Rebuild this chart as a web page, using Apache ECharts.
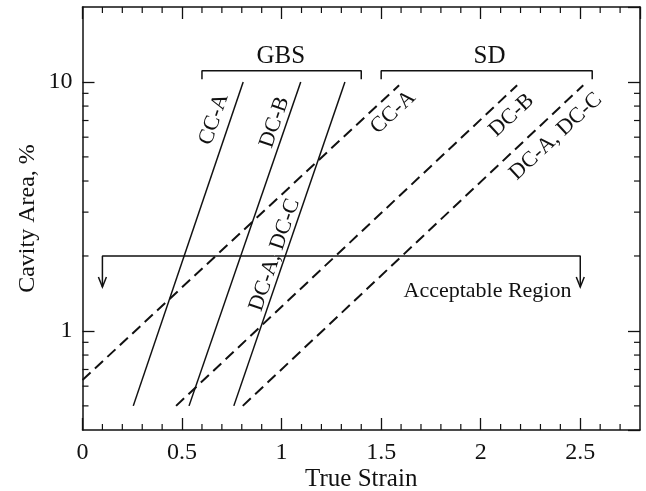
<!DOCTYPE html>
<html>
<head>
<meta charset="utf-8">
<script src="https://cdn.jsdelivr.net/npm/echarts@6/dist/echarts.min.js"></script>
<style>
html,body{margin:0;padding:0;background:#fff;}
#c{width:646px;height:491px;}
</style>
</head>
<body>
<div id="c"></div>
<script>
// ---- axis ranges and ticks ----
const xMin = 0, xMax = 2.8, xMajorStep = 0.5;
const yMin = 0.4, yMax = 20;
const xMinorTicks = [0.1,0.2,0.3,0.4,0.6,0.7,0.8,0.9,1.1,1.2,1.3,1.4,1.6,1.7,1.8,1.9,2.1,2.2,2.3,2.4,2.6,2.7];
const yMinorTicks = [0.5,0.6,0.7,0.8,0.9,2,3,4,5,6,7,8,9];

// ---- GBS (solid) lines: [strain, cavity area %] ----
const gbsCCA  = [[0.255, 0.5], [0.807, 10]];
const gbsDCB  = [[0.535, 0.5], [1.096, 10]];
const gbsDCAC = [[0.760, 0.5], [1.318, 10]];

// ---- SD (dashed) lines ----
const sdCCA  = [[0.000, 0.635], [1.590, 9.7]];
const sdDCB  = [[0.470, 0.5],   [2.183, 9.7]];
const sdDCAC = [[0.805, 0.5],   [2.515, 9.7]];

// ---- annotations ----
const gbsBracket = [[0.6, 10.25], [0.6, 11.1], [1.4, 11.1], [1.4, 10.25]];
const sdBracket  = [[1.5, 10.25], [1.5, 11.1], [2.56, 11.1], [2.56, 10.25]];
const acceptLine = [[0.1, 1.5], [0.1, 2], [2.5, 2], [2.5, 1.5]];
const arrowTips  = [[0.1, 1.5], [2.5, 1.5]];

const lineLabelText = ['CC-A', 'DC-B', 'DC-A, DC-C', 'CC-A', 'DC-B', 'DC-A, DC-C'];
const lineLabelX    = [0.660, 0.965, 0.965, 1.560, 2.155, 2.377];
const lineLabelY    = [7.08, 6.88, 2.02, 7.55, 7.34, 6.04];
const lineLabelRot  = [71, 71, 71, 43, 43, 43];

const headText = ['GBS', 'SD'];
const headX    = [0.996, 2.044];
const headY    = [12.7, 12.7];

const regionText = ['Acceptable Region'];
const regionX    = [2.034];
const regionY    = [1.44];

const INK = '#111';
const FONT = '"Liberation Serif", "Times New Roman", serif';

const chart = echarts.init(document.getElementById('c'), null, {renderer: 'canvas'});

function solid(data) {
  return {type: 'line', data: data, showSymbol: false, symbol: 'none', silent: true, animation: false,
    lineStyle: {color: INK, width: 1.5, type: 'solid'}};
}
function dashed(data) {
  return {type: 'line', data: data, showSymbol: false, symbol: 'none', silent: true, animation: false,
    lineStyle: {color: INK, width: 2, type: [11, 6]}};
}
function textSeries(texts, xs, ys, rots, size) {
  return {
    type: 'scatter', silent: true, animation: false, symbolSize: 1,
    itemStyle: {color: '#fff', opacity: 1},
    data: texts.map((t, i) => ({
      value: [xs[i], ys[i]],
      label: {show: true, formatter: t, rotate: rots ? rots[i] : 0}
    })),
    label: {show: true, position: 'inside', align: 'center', verticalAlign: 'middle', opacity: 1,
      color: INK, fontFamily: FONT, fontSize: size, textBorderWidth: 0},
    z: 5
  };
}

const option = {
  backgroundColor: '#fff',
  animation: false,
  grid: {left: 82.5, top: 7, right: 6, bottom: 61, containLabel: false, outerBoundsMode: 'none'},
  xAxis: [{
    type: 'value', min: xMin, max: xMax, interval: xMajorStep, position: 'bottom',
    name: 'True Strain', nameLocation: 'middle', nameGap: 37, nameMoveOverlap: false,
    nameTextStyle: {color: INK, fontFamily: FONT, fontSize: 25},
    axisLine: {show: true, onZero: false, lineStyle: {color: INK, width: 1.5}},
    axisTick: {show: true, inside: true, length: 12, lineStyle: {color: INK, width: 1.3}},
    axisLabel: {color: INK, fontFamily: FONT, fontSize: 24, margin: 11, showMaxLabel: false},
    splitLine: {show: false}
  }, {
    type: 'value', min: xMin, max: xMax, interval: xMajorStep, position: 'top',
    axisLine: {show: true, onZero: false, lineStyle: {color: INK, width: 1.5}},
    axisTick: {show: true, inside: true, length: 12, lineStyle: {color: INK, width: 1.3}},
    axisLabel: {show: false}, splitLine: {show: false}
  }],
  yAxis: [{
    type: 'log', min: yMin, max: yMax, logBase: 10, position: 'left',
    name: 'Cavity Area, %', nameLocation: 'middle', nameGap: 43, nameMoveOverlap: false,
    nameTextStyle: {color: INK, fontFamily: FONT, fontSize: 24},
    axisLine: {show: true, onZero: false, lineStyle: {color: INK, width: 1.5}},
    axisTick: {show: true, inside: true, length: 12, lineStyle: {color: INK, width: 1.3}},
    axisLabel: {color: INK, fontFamily: FONT, fontSize: 24, margin: 10, showMinLabel: false, showMaxLabel: false},
    splitLine: {show: false}
  }, {
    type: 'log', min: yMin, max: yMax, logBase: 10, position: 'right',
    axisLine: {show: true, onZero: false, lineStyle: {color: INK, width: 1.5}},
    axisTick: {show: true, inside: true, length: 12, lineStyle: {color: INK, width: 1.3}},
    axisLabel: {show: false}, splitLine: {show: false}
  }],
  series: [
    solid(gbsCCA), solid(gbsDCB), solid(gbsDCAC),
    dashed(sdCCA), dashed(sdDCB), dashed(sdDCAC),
    {type: 'line', data: gbsBracket, showSymbol: false, symbol: 'none', silent: true,
      lineStyle: {color: INK, width: 1.5}},
    {type: 'line', data: sdBracket, showSymbol: false, symbol: 'none', silent: true,
      lineStyle: {color: INK, width: 1.5}},
    {type: 'line', data: acceptLine, showSymbol: false, symbol: 'none', silent: true,
      lineStyle: {color: INK, width: 1.5}},
    {
      type: 'custom', silent: true, data: arrowTips,
      renderItem: function (params, api) {
        const p = api.coord([api.value(0), api.value(1)]);
        return {type: 'polyline', shape: {points: [[p[0] - 4, p[1] - 10], p, [p[0] + 4, p[1] - 10]]},
          style: {stroke: INK, lineWidth: 1.5, fill: null}};
      }
    },
    {
      type: 'custom', silent: true, data: xMinorTicks.map(v => [v, 1]),
      renderItem: function (params, api) {
        const cs = params.coordSys;
        const p = api.coord([api.value(0), 1]);
        const st = {stroke: INK, lineWidth: 1.2};
        return {type: 'group', children: [
          {type: 'line', shape: {x1: p[0], y1: cs.y + cs.height, x2: p[0], y2: cs.y + cs.height - 6}, style: st},
          {type: 'line', shape: {x1: p[0], y1: cs.y, x2: p[0], y2: cs.y + 6}, style: st}
        ]};
      }
    },
    {
      type: 'custom', silent: true, data: yMinorTicks.map(v => [1, v]),
      renderItem: function (params, api) {
        const cs = params.coordSys;
        const p = api.coord([1, api.value(1)]);
        const st = {stroke: INK, lineWidth: 1.2};
        return {type: 'group', children: [
          {type: 'line', shape: {x1: cs.x, y1: p[1], x2: cs.x + 6, y2: p[1]}, style: st},
          {type: 'line', shape: {x1: cs.x + cs.width, y1: p[1], x2: cs.x + cs.width - 6, y2: p[1]}, style: st}
        ]};
      }
    },
    textSeries(lineLabelText, lineLabelX, lineLabelY, lineLabelRot, 22),
    textSeries(headText, headX, headY, null, 25),
    textSeries(regionText, regionX, regionY, null, 22)
  ]
};
chart.setOption(option);
</script>
</body>
</html>
